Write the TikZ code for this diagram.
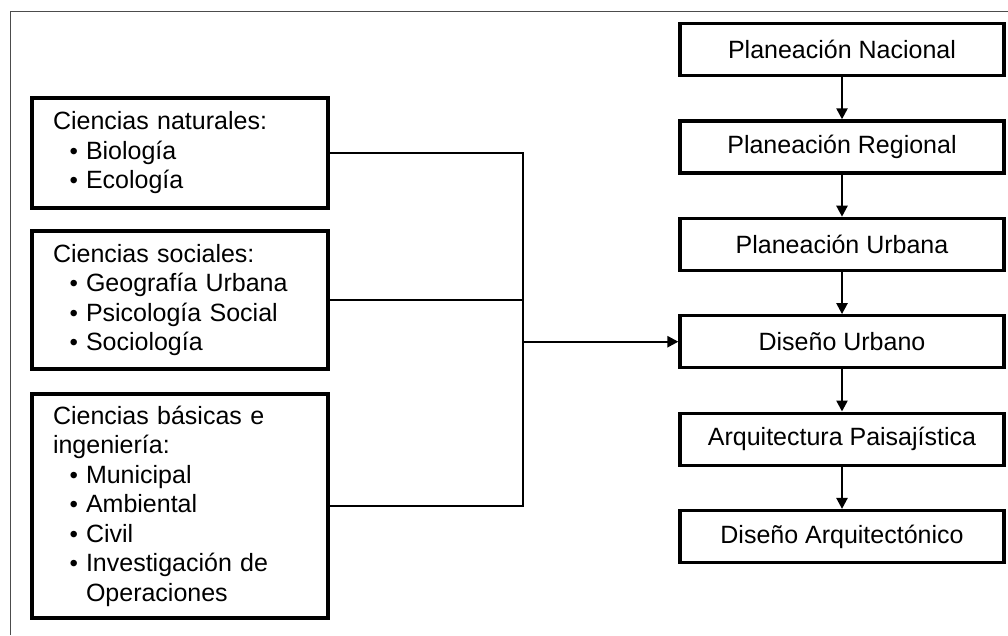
\documentclass[tikz,border=0pt]{standalone}
\usepackage{fontspec}
\setmainfont{Liberation Sans}
\usetikzlibrary{arrows.meta}
\newcommand{\bitem}[1]{\makebox[33pt][r]{{\fontsize{24}{24}\selectfont •}\hspace{8pt}}#1}
\begin{document}
\begin{tikzpicture}[x=1pt,y=-1pt,
  box/.style={draw, line width=3.2pt, inner ysep=0pt, font=\fontsize{25}{29.5}\selectfont},
  leftbox/.style={box, inner xsep=21pt, text width=254pt, align=left},
  rightbox/.style={box, inner xsep=0pt, minimum width=324pt, minimum height=52pt, align=center},
  conn/.style={line width=2.4pt},
  arr/.style={line width=2.4pt, -{Triangle[length=11pt,width=11pt]}},
  frameline/.style={line width=1pt, draw=black!70}
]
\useasboundingbox (0,0) rectangle (1008,635);
\coordinate (fa) at (10,635);
\coordinate (fb) at (10,11);
\coordinate (fc) at (1008,11);
\draw[frameline] (fa) -- (fb) -- (fc);

\node[leftbox, minimum height=110pt] (b1) at (180,153)
  {Ciencias naturales:\\ \bitem{Biología}\\ \bitem{Ecología}};
\node[leftbox, minimum height=138pt] (b2) at (180,300)
  {Ciencias sociales:\\ \bitem{Geografía Urbana}\\ \bitem{Psicología Social}\\ \bitem{Sociología}};
\node[leftbox, minimum height=224pt] (b3) at (180,506)
  {Ciencias básicas e\\ ingeniería:\\ \bitem{Municipal}\\ \bitem{Ambiental}\\ \bitem{Civil}\\ \bitem{Investigación de}\\ \hspace*{33pt}Operaciones};

\node[rightbox] (r1) at (842,49.5) {Planeación Nacional};
\node[rightbox] (r2) at (842,146.9) {Planeación Regional};
\node[rightbox] (r3) at (842,244.3) {Planeación Urbana};
\node[rightbox] (r4) at (842,341.7) {Diseño Urbano};
\node[rightbox] (r5) at (842,439.1) {Arquitectura Paisajística};
\node[rightbox] (r6) at (842,536.5) {Diseño Arquitectónico};

\foreach \a/\b in {r1/r2,r2/r3,r3/r4,r4/r5,r5/r6}
  \draw[arr] (\a.south) -- (\b.north);

\coordinate (t) at (523,341.7);
\draw[conn] (b1.east) -- (b1.east -| t) -- (b3.east -| t) -- (b3.east);
\draw[conn] (b2.east) -- (b2.east -| t);
\draw[arr] (t) -- (r4.west);
\end{tikzpicture}
\end{document}
